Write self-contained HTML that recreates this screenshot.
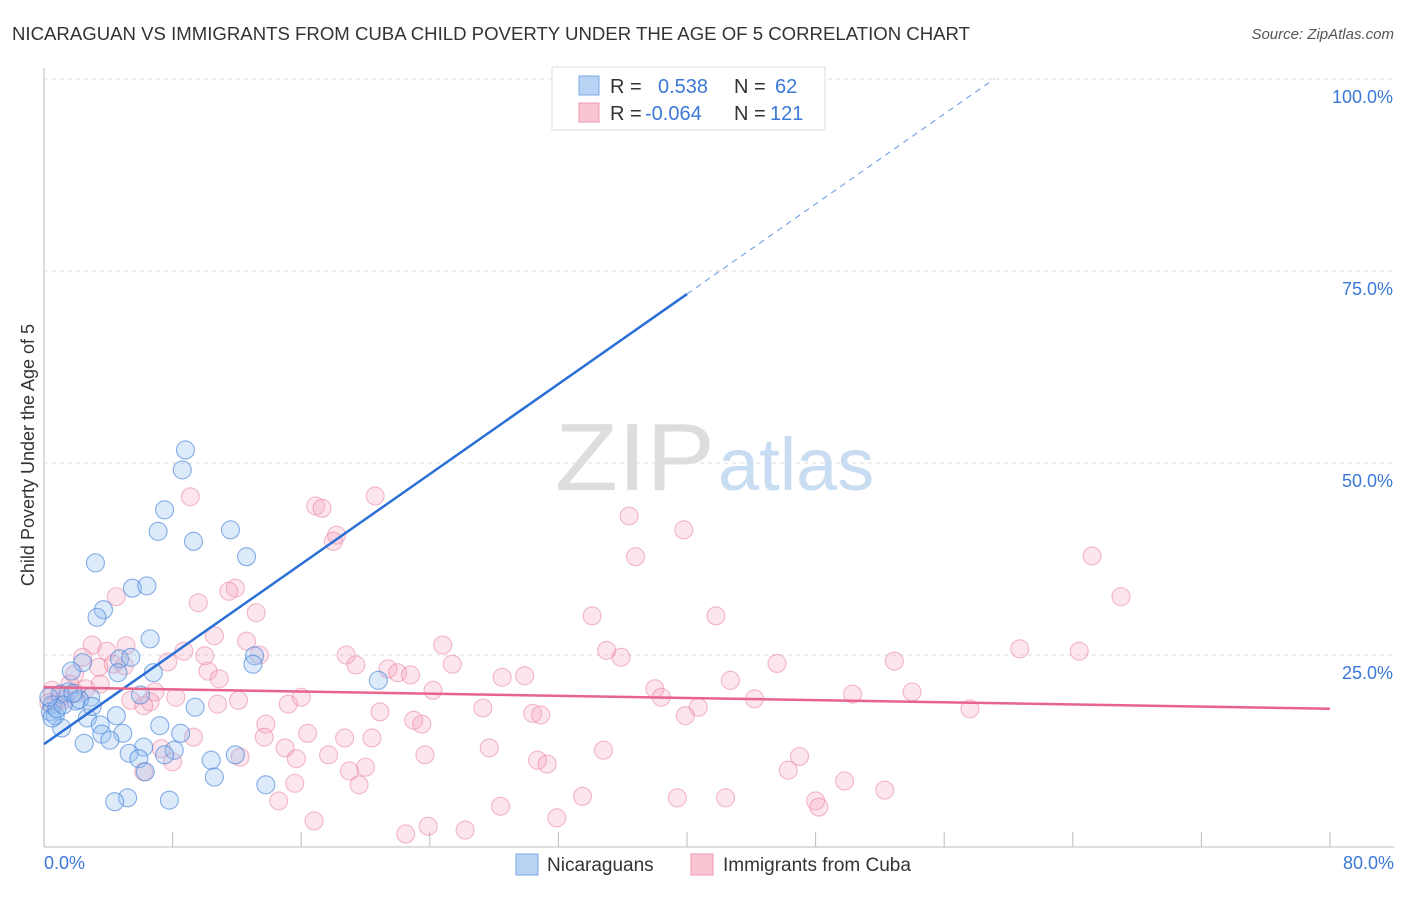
<!DOCTYPE html>
<html><head><meta charset="utf-8"><style>
body{margin:0;background:#fff;font-family:"Liberation Sans",sans-serif;}
svg text{font-family:"Liberation Sans",sans-serif;}
</style></head><body>
<svg id="chart" width="1406" height="892">
<text x="12" y="40" font-size="18" fill="#333" textLength="958" lengthAdjust="spacingAndGlyphs">NICARAGUAN VS IMMIGRANTS FROM CUBA CHILD POVERTY UNDER THE AGE OF 5 CORRELATION CHART</text>
<text x="1394" y="39" font-size="15" fill="#555" text-anchor="end" font-style="italic">Source: ZipAtlas.com</text>
<g id="grid"></g>
<text x="555" y="490" font-size="96" fill="#ddd" textLength="160" lengthAdjust="spacingAndGlyphs" font-family="Liberation Serif">ZIP</text>
<text x="718" y="490" font-size="74" fill="#c8dcf2">atlas</text>
<g id="pts"></g>
<g id="lines"></g>
<text transform="translate(34,455) rotate(-90)" font-size="18" fill="#333" text-anchor="middle">Child Poverty Under the Age of 5</text>
<text x="44" y="869" font-size="18" fill="#3b78d8">0.0%</text>
<text x="1394" y="869" font-size="18" fill="#3b78d8" text-anchor="end">80.0%</text>
<g>
<rect x="552" y="67" width="273" height="63" fill="#fff" stroke="#ddd"/>
<rect x="579" y="76" width="20" height="19" fill="#b9d3f5" stroke="#7aa7e6"/>
<rect x="579" y="103" width="20" height="19" fill="#f9c5d3" stroke="#ee9ab2"/>
<text x="610" y="93" font-size="20" fill="#333">R =</text><text x="658" y="93" font-size="20" fill="#3b78d8">0.538</text>
<text x="734" y="93" font-size="20" fill="#333">N =</text><text x="775" y="93" font-size="20" fill="#3b78d8">62</text>
<text x="610" y="120" font-size="20" fill="#333">R =</text><text x="645" y="120" font-size="20" fill="#3b78d8">-0.064</text>
<text x="734" y="120" font-size="20" fill="#333">N =</text><text x="770" y="120" font-size="20" fill="#3b78d8">121</text>
</g>
<g>
<rect x="516" y="854" width="22" height="21" fill="#b9d3f5" stroke="#7aa7e6"/>
<text x="547" y="871" font-size="19" fill="#333">Nicaraguans</text>
<rect x="691" y="854" width="22" height="21" fill="#f9c5d3" stroke="#ee9ab2"/>
<text x="723" y="871" font-size="19" fill="#333">Immigrants from Cuba</text>
</g>
</svg>
<script>
const yTicks=[25,50,75,100];
const yTickLabels=["25.0%","50.0%","75.0%","100.0%"];
const xTicks=[0,8,16,24,32,40,48,56,64,72,80];
const blueX=[33.0,8.8,8.6,7.5,7.1,9.3,11.6,12.6,3.2,5.5,6.4,3.7,3.3,6.6,2.4,1.7,4.7,5.4,13.1,13.0,6.8,4.6,20.8,1.5,1.0,2.9,2.0,0.5,0.4,0.7,6.0,9.4,2.7,4.5,1.1,3.5,7.2,8.5,3.6,4.9,4.1,2.5,6.2,5.3,8.1,11.9,7.5,5.9,10.4,10.6,13.8,5.2,4.4,7.8,0.5,6.3,1.2,2.2,0.8,1.8,3.0,0.3];
const blueY=[100,51.7,49.1,43.9,41.1,39.8,41.3,37.8,37.0,33.7,34.0,30.9,29.9,27.1,24.0,22.9,24.5,24.7,24.9,23.8,22.7,22.7,21.7,20.2,19.9,19.5,19.0,18.5,17.6,17.1,19.8,18.2,16.8,17.1,15.5,15.9,15.8,14.8,14.7,14.8,13.9,13.5,13.0,12.2,12.6,12.0,12.0,11.5,11.3,9.1,8.1,6.4,5.9,6.1,16.8,9.8,18.5,19.2,18.0,20.0,18.3,19.5];
const pinkX=[9.1,20.6,16.9,17.3,36.4,39.8,18.2,18.0,36.8,65.2,67.0,11.9,11.5,4.5,9.6,13.2,34.1,41.8,10.6,12.6,3.0,5.1,24.8,3.9,8.7,35.0,60.7,64.4,13.4,10.0,18.8,35.9,2.4,7.7,52.9,45.6,4.3,3.4,5.0,19.4,25.4,21.4,10.2,22.0,22.8,1.9,10.9,28.5,29.9,42.7,3.5,1.6,6.9,0.5,24.2,38.0,16.0,8.2,38.4,50.3,54.0,5.4,6.6,12.1,44.2,10.8,0.7,15.2,6.2,27.3,40.7,57.6,20.9,30.4,30.9,39.9,23.0,23.5,13.8,16.4,13.7,9.3,18.7,20.4,15.0,27.7,34.8,7.3,17.7,23.7,12.2,47.0,15.7,8.0,30.7,31.3,20.0,19.0,46.3,6.2,19.6,15.6,49.8,52.3,33.5,39.4,42.4,48.0,14.6,28.4,48.2,31.9,16.8,23.9,26.2,22.5,1.0,2.0,0.3,1.3,2.6];
const pinkY=[45.6,45.7,44.4,44.1,43.1,41.3,40.6,39.8,37.8,37.9,32.6,33.7,33.3,32.6,31.8,30.5,30.1,30.1,27.5,26.8,26.3,26.2,26.3,25.5,25.5,25.6,25.8,25.5,25.0,24.9,25.0,24.7,24.7,24.1,24.2,23.9,23.8,23.4,23.6,23.7,23.8,23.2,22.9,22.7,22.4,22.5,21.9,22.1,22.3,21.7,21.2,21.2,20.2,20.4,20.4,20.6,19.5,19.5,19.5,19.9,20.2,19.1,18.9,19.1,19.3,18.6,18.6,18.6,18.4,18.1,18.2,18.0,17.6,17.4,17.2,17.1,16.5,16.0,16.0,14.8,14.3,14.3,14.2,14.2,12.9,12.9,12.6,12.8,12.0,12.0,11.7,11.8,11.5,11.1,11.3,10.8,10.4,9.9,10.0,9.8,8.1,8.3,8.6,7.4,6.6,6.4,6.4,6.0,6.0,5.3,5.2,3.8,3.4,2.7,2.2,1.7,19.5,20.0,18.8,19.2,20.6];
const blueTrend=[13.4,72.0];   // y at x=0 and x=40
const pinkTrend=[20.8,18.0];   // y at x=0 and x=80
const NS='http://www.w3.org/2000/svg';
const X0=44,X1=1330,Y0=847,Y1=79;
const xs=v=>X0+(X1-X0)*v/80;
const ys=v=>Y0-(Y0-Y1)*v/100;
function mk(tag,attrs,parent){const e=document.createElementNS(NS,tag);for(const k in attrs)e.setAttribute(k,attrs[k]);parent.appendChild(e);return e;}
const grid=document.getElementById('grid');
let ax=mk('line',{x1:X0,y1:68,x2:X0,y2:Y0,stroke:'#bbb'},grid);


let bx=mk('line',{x1:X0,y1:Y0,x2:1394,y2:Y0,stroke:'#bbb'},grid);


let g100=mk('line',{x1:X0,y1:ys(100),x2:1394,y2:ys(100),stroke:'#ddd','stroke-dasharray':'4,4'},grid);


yTicks.forEach((t,i)=>{
  if(t<100){const l=mk('line',{x1:X0,y1:ys(t),x2:1394,y2:ys(t),stroke:'#ddd','stroke-dasharray':'4,4'},grid);
  
  }
  const tx=mk('text',{x:1393,y:ys(t)+24,'font-size':18,fill:'#3b78d8','text-anchor':'end'},grid);
  tx.textContent=yTickLabels[i];
  
  
});
xTicks.forEach(t=>{
  const l=mk('line',{x1:xs(t),y1:832,x2:xs(t),y2:Y0,stroke:'#bbb'},grid);
  
  
});
const pts=document.getElementById('pts');
pinkX.forEach((v,i)=>{
  const c=mk('circle',{cx:xs(v),cy:ys(pinkY[i]),r:9,fill:'rgba(245,160,185,0.28)',stroke:'rgba(232,120,155,0.5)','stroke-width':1.1},pts);
  
  
});
blueX.forEach((v,i)=>{
  const c=mk('circle',{cx:xs(v),cy:ys(blueY[i]),r:9,fill:'rgba(150,190,240,0.33)',stroke:'rgba(60,125,215,0.6)','stroke-width':1.1},pts);
  
  
});
const lines=document.getElementById('lines');
const slope=(blueTrend[1]-blueTrend[0])/40;
let bl=mk('line',{x1:xs(0),y1:ys(blueTrend[0]),x2:xs(40),y2:ys(blueTrend[1]),stroke:'#2a6fd6','stroke-width':2.5},lines);


const xEnd=(100-blueTrend[0])/slope;
let bd=mk('line',{x1:xs(40),y1:ys(blueTrend[1]),x2:xs(xEnd),y2:ys(100),stroke:'#7aa7e6','stroke-width':1.2,'stroke-dasharray':'6,5'},lines);


let pl=mk('line',{x1:xs(0),y1:ys(pinkTrend[0]),x2:xs(80),y2:ys(pinkTrend[1]),stroke:'#e8648e','stroke-width':2.5},lines);


</script>
</body></html>
